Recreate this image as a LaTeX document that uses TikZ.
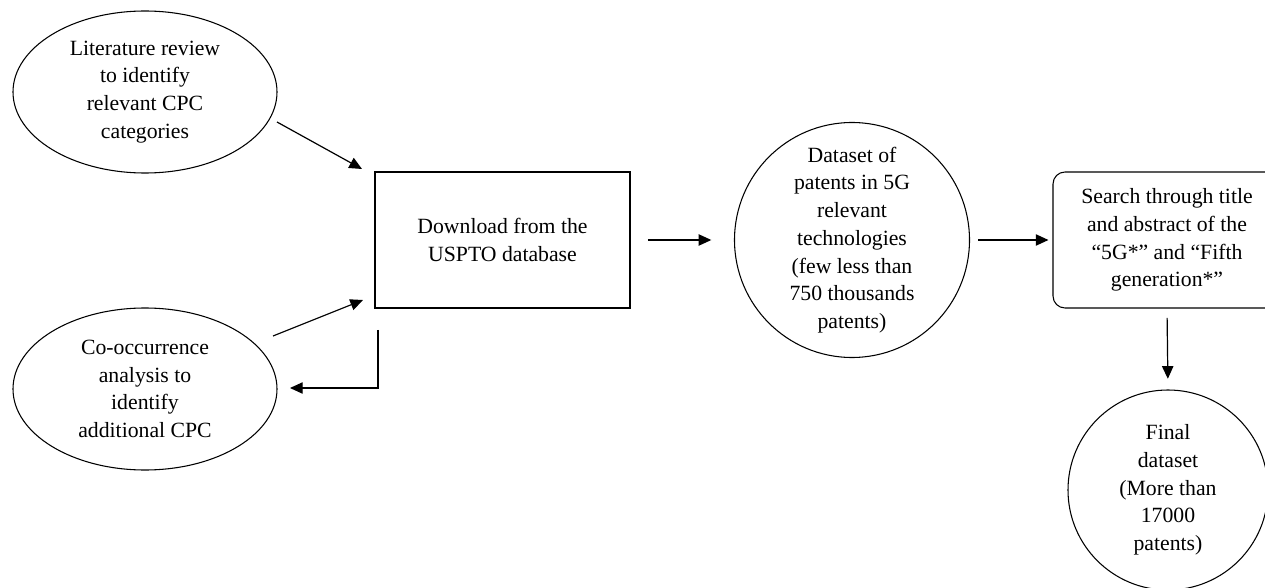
\documentclass[tikz,border=0pt]{standalone}
\usepackage{fontspec}
\setmainfont{Liberation Serif}
\usetikzlibrary{shapes.geometric,arrows.meta}
\tikzset{
  base/.style={draw=black, line width=0.8pt, align=center, inner sep=0pt,
    font=\fontsize{16.3}{20.8}\selectfont},
  ell/.style={base, ellipse, minimum width=198pt, minimum height=121.5pt},
  circ/.style={base, circle},
  boxnode/.style={base, rectangle, minimum width=191.25pt, minimum height=102pt},
  rbox/.style={base, rectangle, rounded corners=9pt, minimum width=171pt, minimum height=102pt},
  arr/.style={line width=0.9pt, -{Triangle[length=9.5pt,width=8.5pt]}},
}
\begin{document}
\begin{tikzpicture}[x=0.75pt, y=-0.75pt]
\useasboundingbox (0,0) rectangle (1265,588);
\node[ell] (lit) at (145,92) {Literature review\\to identify\\relevant CPC\\categories};
\node[ell] (cooc) at (145,389) {Co-occurrence\\analysis to\\identify\\additional CPC};
\node[boxnode] (dl) at (502.5,240) {Download from the\\USPTO database};
\node[circ, minimum size=176.25pt] (ds) at (852,240) {Dataset of\\patents in 5G\\relevant\\technologies\\(few less than\\750 thousands\\patents)};
\node[rbox] (search) at (1167,240) {Search through title\\and abstract of the\\``5G*'' and ``Fifth\\generation*''};
\node[circ, minimum size=150pt] (final) at (1168,490) {Final\\dataset\\(More than\\17000\\patents)};
\coordinate (a1s) at (277,122);
\coordinate (a1e) at (362,169);
\coordinate (a2s) at (273,336);
\coordinate (a2e) at (363,300);
\coordinate (a3s) at (378,330);
\coordinate (a3m) at (378,388);
\coordinate (a3e) at (290,388);
\draw[arr] (a1s) -- (a1e);
\draw[arr] (a2s) -- (a2e);
\draw[arr] (a3s) -- (a3m) -- (a3e);
\draw[arr, shorten <=13pt, shorten >=17pt] (dl.east) -- (ds.west);
\draw[arr, shorten <=6pt, shorten >=3pt] (ds.east) -- (search.west);
\draw[arr, shorten <=7pt, shorten >=8pt] (search.south) -- (final.north);
\end{tikzpicture}
\end{document}
